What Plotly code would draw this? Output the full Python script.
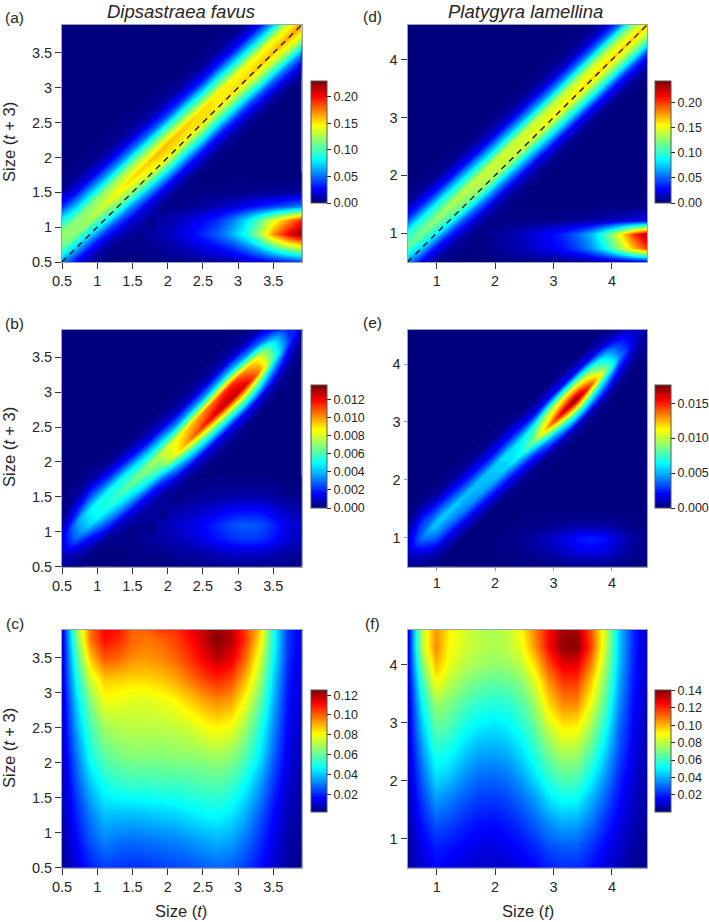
import plotly.graph_objects as go

size_fav = [0.5, 0.7, 0.9, 1.1, 1.3, 1.5, 1.7, 1.9, 2.1, 2.3, 2.5, 2.7, 2.9, 3.1, 3.3, 3.5, 3.7, 3.9]
size_pla = [0.5, 0.741, 0.982, 1.224, 1.465, 1.706, 1.947, 2.188, 2.429, 2.671, 2.912, 3.153, 3.394, 3.635, 3.876, 4.118, 4.359, 4.6]
y_fav_c = [0.5, 0.9, 1.3, 1.7, 2.1, 2.5, 2.9, 3.2, 3.5, 3.75, 3.9]
y_pla_f = [0.5, 0.9, 1.3, 1.7, 2.1, 2.5, 2.9, 3.3, 3.7, 4.0, 4.3, 4.6]

# rows go bottom to top, columns left to right
kernel_a = [
    [.058, .025, .007, .001, 0, 0, 0, .001, .002, .003, .005, .006, .008, .012, .017, .023, .03, .036],
    [.109, .07, .03, .009, .002, .002, .003, .005, .008, .013, .019, .025, .034, .048, .068, .095, .118, .135],
    [.122, .117, .078, .037, .013, .006, .005, .009, .015, .024, .034, .046, .064, .088, .124, .172, .205, .23],
    [.084, .117, .125, .092, .047, .018, .008, .007, .011, .018, .026, .035, .052, .075, .105, .14, .17, .2],
    [.034, .07, .118, .135, .108, .056, .02, .006, .002, .004, .006, .01, .016, .022, .03, .037, .045, .055],
    [.008, .025, .068, .12, .147, .119, .067, .024, .005, .001, .001, .001, .002, .002, .003, .004, .005, .006],
    [.001, .0055, .023, .063, .12, .155, .133, .076, .027, .006, 0, 0, 0, 0, 0, 0, 0, 0],
    [0, .001, .005, .02, .059, .119, .158, .144, .082, .029, .007, 0, 0, 0, 0, 0, 0, 0],
    [0, 0, .001, .004, .018, .056, .114, .162, .149, .085, .032, .007, 0, 0, 0, 0, 0, 0],
    [0, 0, 0, .001, .003, .016, .05, .11, .16, .148, .091, .032, .008, 0, 0, 0, 0, 0],
    [0, 0, 0, 0, .001, .003, .013, .045, .104, .157, .152, .09, .037, .009, 0, 0, 0, 0],
    [0, 0, 0, 0, 0, .001, .002, .011, .04, .099, .152, .15, .096, .039, .011, 0, 0, 0],
    [0, 0, 0, 0, 0, 0, .001, .002, .009, .037, .091, .15, .154, .1, .045, .012, 0, 0],
    [0, 0, 0, 0, 0, 0, 0, .001, .001, .008, .032, .09, .146, .155, .11, .05, .015, 0],
    [0, 0, 0, 0, 0, 0, 0, 0, .001, .001, .007, .032, .083, .145, .16, .113, .055, .017],
    [0, 0, 0, 0, 0, 0, 0, 0, 0, .001, .001, .007, .029, .08, .142, .162, .125, .061],
    [0, 0, 0, 0, 0, 0, 0, 0, 0, 0, .001, .001, .006, .027, .075, .14, .166, .131],
    [0, 0, 0, 0, 0, 0, 0, 0, 0, 0, 0, .001, .001, .005, .024, .07, .135, .17],
]

kernel_b = [
    [.0003, .0001, 0, 0, 0, 0, 0, 0, 0, .0001, .0001, .0001, .0001, .0001, .0001, .0001, .0001, 0],
    [.0008, .0008, .0002, 0, 0, .0001, .0001, .0002, .0003, .0004, .0005, .0007, .0009, .0009, .0009, .0007, .0004, .0002],
    [.001, .0028, .0016, .0004, .0002, .0002, .0003, .0004, .0007, .0009, .0013, .0017, .0021, .0023, .0022, .0017, .001, .0006],
    [.0005, .0034, .0044, .0028, .0008, .0003, .0003, .0005, .0008, .0011, .0015, .002, .0025, .0027, .0026, .002, .0012, .0007],
    [.0001, .0016, .0048, .0052, .0036, .0013, .0004, .0003, .0005, .0007, .0009, .0012, .0015, .0016, .0016, .0012, .0007, .0004],
    [0, .0004, .0026, .0052, .0058, .0042, .0016, .0004, .0002, .0002, .0003, .0004, .0005, .0005, .0005, .0004, .0002, .0001],
    [0, .0001, .0006, .0024, .0052, .0065, .0051, .0022, .0007, .0001, .0001, .0001, .0001, .0001, .0001, .0001, 0, 0],
    [0, 0, .0001, .0004, .002, .0048, .0071, .0062, .0036, .001, .0001, 0, 0, 0, 0, 0, 0, 0],
    [0, 0, 0, 0, .0003, .0016, .0043, .0077, .0084, .0048, .0013, .0002, 0, 0, 0, 0, 0, 0],
    [0, 0, 0, 0, 0, .0002, .0011, .0041, .0084, .0101, .0056, .0014, .0002, 0, 0, 0, 0, 0],
    [0, 0, 0, 0, 0, 0, .0001, .001, .0036, .0093, .0114, .0061, .0015, .0002, 0, 0, 0, 0],
    [0, 0, 0, 0, 0, 0, 0, .0001, .0007, .0038, .0101, .0124, .0064, .0016, .0001, 0, 0, 0],
    [0, 0, 0, 0, 0, 0, 0, 0, .0001, .0007, .0038, .0109, .0129, .0067, .0013, .0001, 0, 0],
    [0, 0, 0, 0, 0, 0, 0, 0, 0, .0001, .0007, .0042, .0114, .0124, .0055, .0008, 0, 0],
    [0, 0, 0, 0, 0, 0, 0, 0, 0, 0, .0001, .0008, .0044, .0101, .0102, .0032, .0003, 0],
    [0, 0, 0, 0, 0, 0, 0, 0, 0, 0, 0, .0001, .0008, .0036, .0083, .006, .0012, .0001],
    [0, 0, 0, 0, 0, 0, 0, 0, 0, 0, 0, 0, .0001, .0006, .0029, .0049, .0026, .0002],
    [0, 0, 0, 0, 0, 0, 0, 0, 0, 0, 0, 0, 0, .0001, .0005, .0017, .0019, .0007],
]

kernel_c = [
    [.005, .012, .019, .023, .022, .021, .022, .023, .024, .025, .027, .028, .027, .023, .017, .011, .006, .003],
    [.006, .016, .026, .032, .03, .029, .03, .031, .032, .034, .036, .038, .036, .03, .022, .014, .007, .004],
    [.007, .02, .032, .04, .04, .04, .041, .042, .043, .045, .047, .048, .045, .038, .028, .017, .009, .005],
    [.008, .025, .04, .049, .053, .054, .054, .055, .055, .056, .057, .058, .055, .047, .036, .022, .011, .006],
    [.009, .03, .049, .059, .063, .065, .065, .065, .066, .066, .067, .069, .066, .058, .045, .028, .014, .007],
    [.01, .036, .056, .068, .071, .072, .072, .072, .073, .075, .079, .082, .079, .068, .052, .033, .016, .008],
    [.011, .042, .065, .08, .079, .077, .077, .079, .082, .087, .092, .096, .093, .08, .062, .038, .018, .009],
    [.012, .048, .075, .088, .087, .086, .086, .088, .092, .098, .104, .108, .104, .09, .07, .042, .02, .01],
    [.012, .055, .088, .102, .1, .095, .094, .096, .1, .106, .113, .119, .115, .1, .078, .047, .022, .011],
    [.012, .062, .098, .111, .107, .1, .098, .1, .104, .11, .118, .125, .12, .106, .085, .05, .023, .012],
    [.012, .066, .098, .112, .11, .1, .1, .105, .107, .112, .118, .123, .12, .105, .088, .05, .023, .012],
]

kernel_d = [
    [.063, .024, .005, .001, 0, 0, 0, .001, .001, .001, .002, .002, .003, .005, .007, .011, .014, .018],
    [.11, .077, .03, .007, .001, .001, .003, .007, .011, .017, .023, .03, .042, .06, .089, .128, .17, .204],
    [.099, .121, .088, .038, .01, .003, .004, .008, .013, .02, .027, .035, .05, .07, .105, .15, .2, .24],
    [.044, .096, .127, .1, .047, .013, .002, .001, .001, .002, .002, .003, .004, .006, .009, .013, .018, .022],
    [.01, .039, .093, .134, .114, .056, .015, .002, 0, 0, 0, 0, 0, 0, .001, .001, .001, .001],
    [.001, .008, .034, .09, .139, .125, .063, .017, .003, 0, 0, 0, 0, 0, 0, 0, 0, 0],
    [0, .001, .006, .03, .085, .14, .134, .067, .019, .003, 0, 0, 0, 0, 0, 0, 0, 0],
    [0, 0, .001, .005, .027, .08, .141, .138, .074, .021, .004, 0, 0, 0, 0, 0, 0, 0],
    [0, 0, 0, .001, .004, .023, .075, .142, .144, .079, .025, .004, 0, 0, 0, 0, 0, 0],
    [0, 0, 0, 0, 0, .003, .02, .073, .14, .149, .087, .027, .004, 0, 0, 0, 0, 0],
    [0, 0, 0, 0, 0, 0, .003, .019, .068, .14, .154, .092, .029, .005, 0, 0, 0, 0],
    [0, 0, 0, 0, 0, 0, 0, .003, .017, .066, .138, .157, .097, .032, .005, 0, 0, 0],
    [0, 0, 0, 0, 0, 0, 0, 0, .002, .016, .062, .137, .161, .102, .034, .006, 0, 0],
    [0, 0, 0, 0, 0, 0, 0, 0, 0, .002, .014, .061, .136, .165, .106, .036, .007, 0],
    [0, 0, 0, 0, 0, 0, 0, 0, 0, 0, .002, .013, .059, .136, .166, .11, .04, .008],
    [0, 0, 0, 0, 0, 0, 0, 0, 0, 0, 0, .002, .012, .057, .133, .167, .116, .043],
    [0, 0, 0, 0, 0, 0, 0, 0, 0, 0, 0, 0, .002, .012, .055, .13, .168, .119],
    [0, 0, 0, 0, 0, 0, 0, 0, 0, 0, 0, 0, 0, .002, .011, .05, .122, .168],
]

kernel_e = [
    [.0002, .0001, 0, 0, 0, 0, 0, 0, 0, 0, 0, 0, 0, 0, 0, 0, 0, 0],
    [.0008, .0015, .0009, 0, 0, 0, 0, .0001, .0002, .0004, .0006, .001, .0014, .0016, .0014, .0008, .0003, .0001],
    [.0009, .0038, .0035, .0012, 0, 0, 0, .0001, .0003, .0006, .001, .0015, .0022, .0025, .0022, .0012, .0005, .0001],
    [.0003, .003, .0056, .0038, .0014, .0001, 0, 0, .0001, .0001, .0002, .0003, .0005, .0005, .0005, .0003, .0001, 0],
    [0, .001, .003, .0056, .0042, .0016, .0001, 0, 0, 0, 0, 0, 0, 0, 0, 0, 0, 0],
    [0, .0001, .0006, .0028, .0054, .0046, .0018, .0001, 0, 0, 0, 0, 0, 0, 0, 0, 0, 0],
    [0, 0, 0, .0005, .0024, .0054, .005, .002, .0002, 0, 0, 0, 0, 0, 0, 0, 0, 0],
    [0, 0, 0, 0, .0005, .0022, .0055, .0055, .0024, .0003, 0, 0, 0, 0, 0, 0, 0, 0],
    [0, 0, 0, 0, 0, .0004, .002, .0058, .0065, .0029, .0004, 0, 0, 0, 0, 0, 0, 0],
    [0, 0, 0, 0, 0, 0, .0004, .0022, .006, .0088, .0046, .0007, 0, 0, 0, 0, 0, 0],
    [0, 0, 0, 0, 0, 0, 0, .0004, .002, .0071, .0128, .0063, .0009, .0001, 0, 0, 0, 0],
    [0, 0, 0, 0, 0, 0, 0, 0, .0001, .0015, .0097, .016, .0077, .0007, 0, 0, 0, 0],
    [0, 0, 0, 0, 0, 0, 0, 0, 0, .0001, .002, .0109, .0174, .0064, .0006, 0, 0, 0],
    [0, 0, 0, 0, 0, 0, 0, 0, 0, 0, .0001, .002, .0106, .0143, .0044, .0002, 0, 0],
    [0, 0, 0, 0, 0, 0, 0, 0, 0, 0, 0, .0002, .0018, .0087, .0094, .002, .0001, 0],
    [0, 0, 0, 0, 0, 0, 0, 0, 0, 0, 0, 0, .0001, .0015, .0057, .0044, .0007, 0],
    [0, 0, 0, 0, 0, 0, 0, 0, 0, 0, 0, 0, 0, .0001, .001, .0027, .0016, .0002],
    [0, 0, 0, 0, 0, 0, 0, 0, 0, 0, 0, 0, 0, 0, .0001, .0005, .001, .0004],
]

kernel_f = [
    [.004, .011, .016, .014, .012, .01, .01, .011, .013, .016, .02, .022, .022, .018, .012, .008, .004, .002],
    [.005, .014, .021, .019, .016, .014, .013, .015, .018, .022, .028, .03, .03, .024, .017, .011, .006, .003],
    [.006, .019, .029, .026, .022, .019, .018, .02, .024, .03, .037, .041, .04, .033, .023, .014, .008, .003],
    [.007, .024, .038, .034, .029, .025, .024, .026, .031, .038, .048, .053, .052, .042, .03, .018, .01, .004],
    [.008, .03, .048, .044, .037, .032, .031, .033, .039, .048, .059, .066, .065, .053, .038, .022, .012, .005],
    [.009, .036, .056, .053, .045, .04, .039, .041, .047, .057, .07, .078, .077, .064, .046, .027, .014, .006],
    [.01, .043, .066, .062, .054, .049, .047, .049, .055, .066, .082, .092, .091, .076, .055, .031, .016, .006],
    [.01, .05, .075, .07, .063, .058, .056, .057, .063, .075, .095, .106, .106, .088, .064, .036, .018, .007],
    [.011, .06, .09, .08, .073, .068, .066, .067, .072, .085, .105, .118, .118, .098, .072, .04, .02, .008],
    [.012, .07, .1, .087, .08, .076, .074, .075, .08, .095, .115, .128, .128, .108, .078, .043, .021, .008],
    [.012, .08, .107, .09, .084, .08, .078, .08, .087, .105, .125, .139, .14, .118, .083, .045, .022, .008],
    [.012, .08, .105, .092, .085, .08, .078, .08, .09, .108, .125, .137, .137, .115, .085, .045, .022, .008],
]

# colour bar ticks
ticks_a = [0, 0.05, 0.10, 0.15, 0.20]
ticks_b = [0, 0.002, 0.004, 0.006, 0.008, 0.010, 0.012]
ticks_c = [0.02, 0.04, 0.06, 0.08, 0.10, 0.12]
ticks_d = [0, 0.05, 0.10, 0.15, 0.20]
ticks_e = [0, 0.005, 0.010, 0.015]
ticks_f = [0.02, 0.04, 0.06, 0.08, 0.10, 0.12, 0.14]

# matlab.like ramp
ramp = [[0, "#00007F"], [0.11, "#0000FF"], [0.36, "#00FFFF"], [0.5, "#7FFF7F"],
        [0.64, "#FFFF00"], [0.89, "#FF0000"], [1, "#7F0000"]]

W = 709
H = 922
TXT = "#262626"
FONT = "Liberation Sans"

fig = go.Figure()


def add_panel(n, x, y, z, zrange, bar_ticks, fmt, box, bar, x_range, y_range, x_ticks, y_ticks, tick_style, sheared):
    L, R, T, B = box
    suffix = "" if n == 1 else str(n)
    cbar = dict(
        x=bar[0] / W, xanchor="left", y=1 - bar[2] / H, yanchor="bottom",
        len=bar[2] - bar[1], lenmode="pixels", thickness=bar[3], thicknessmode="pixels",
        xpad=0, ypad=0, outlinewidth=1, outlinecolor="#555555",
        tickvals=bar_ticks, ticktext=[fmt % v for v in bar_ticks],
        ticks="outside", ticklen=4, tickwidth=1, tickcolor=TXT,
        tickfont=dict(family=FONT, size=12.5, color=TXT),
    )
    if sheared:
        # same grid values, but cells run along the diagonal so the ridge stays smooth
        k = len(x)
        steps = list(range(-(k - 1), k))
        off = [s * (x[-1] - x[0]) / (k - 1) for s in steps]
        sheared_x = [list(x) for _ in steps]
        sheared_y = [[v + o for v in x] for o in off]
        sheared_z = []
        for s in steps:
            row = []
            for i in range(k):
                i2 = min(max(i, max(0, -s)), min(k - 1, k - 1 - s))
                row.append(z[i2 + s][i2] if s >= -3 else 0)
            sheared_z.append(row)
        cid = "c" + str(n)
        fig.add_trace(go.Carpet(
            carpet=cid, a=list(x), b=off, x=sheared_x, y=sheared_y,
            xaxis="x" + suffix, yaxis="y" + suffix,
            aaxis=dict(showgrid=False, showticklabels="none", showline=False, startline=False, endline=False,
                       minorgridcount=0),
            baxis=dict(showgrid=False, showticklabels="none", showline=False, startline=False, endline=False,
                       minorgridcount=0),
        ))
        fig.add_trace(go.Contourcarpet(
            carpet=cid, a=list(x), b=off, z=sheared_z, xaxis="x" + suffix, yaxis="y" + suffix,
            colorscale=ramp, zauto=False, zmin=zrange[0], zmax=zrange[1], autocontour=False,
            contours=dict(coloring="fill", start=zrange[0] + (zrange[1] - zrange[0]) / 200,
                          end=zrange[1], size=(zrange[1] - zrange[0]) / 60, showlines=False),
            line=dict(width=0, smoothing=1), colorbar=cbar,
        ))
        # the horizontal lower patch sits on normal axes on top, the rest left empty
        over = str(n + 6)
        patch = [[z[r][c] if r - c <= -4 and r <= 6 else None for c in range(k)] for r in range(k)]
        fig.add_trace(go.Heatmap(
            x=x, y=y, z=patch, zmin=zrange[0], zmax=zrange[1], zsmooth="best", colorscale=ramp,
            showscale=False, xaxis="x" + over, yaxis="y" + over,
        ))
        fig.update_layout({
            "xaxis" + over: dict(overlaying="x" + suffix, anchor="y" + over, range=x_range, visible=False),
            "yaxis" + over: dict(overlaying="y" + suffix, anchor="x" + over, range=y_range, visible=False),
        })
    else:
        fig.add_trace(go.Heatmap(
            x=x, y=y, z=z, zmin=zrange[0], zmax=zrange[1], zsmooth="best",
            colorscale=ramp, xaxis="x" + suffix, yaxis="y" + suffix, colorbar=cbar,
        ))
    common = dict(showgrid=False, zeroline=False, showline=True, mirror=True, linecolor="#9aa3ad",
                  linewidth=1, ticks="outside", tickfont=dict(family=FONT, size=14.5, color=TXT),
                  **tick_style)
    fig.update_layout({
        "xaxis" + suffix: dict(domain=[L / W, R / W], range=x_range, anchor="y" + suffix,
                               tickvals=x_ticks, ticktext=[str(v) for v in x_ticks], **common),
        "yaxis" + suffix: dict(domain=[1 - B / H, 1 - T / H], range=y_range, anchor="x" + suffix,
                               tickvals=y_ticks, ticktext=[str(v) for v in y_ticks], **common),
    })


ticks_fav = [0.5, 1, 1.5, 2, 2.5, 3, 3.5]
ticks_pla = [1, 2, 3, 4]
normal = dict(ticklen=6, tickwidth=1, tickcolor="#333333")
faint = dict(ticklen=3, tickwidth=1, tickcolor="#999999")
range_fav = [0.5, 3.9]
range_pla = [0.5, 4.6]

add_panel(1, size_fav, size_fav, kernel_a, [0, 0.23], ticks_a, "%.2f", (62, 301.5, 25, 262),
          (310.5, 81, 203, 15.5), range_fav, range_fav, ticks_fav, ticks_fav, normal, True)
add_panel(2, size_fav, size_fav, kernel_b, [0, 0.0136], ticks_b, "%.3f", (62, 301.5, 329.5, 566.5),
          (310.5, 385.5, 508, 15.5), range_fav, range_fav, ticks_fav, ticks_fav, normal, True)
add_panel(3, size_fav, y_fav_c, kernel_c, [0.0025, 0.1257], ticks_c, "%.2f", (62, 301.5, 630, 867.5),
          (310.5, 689.5, 811.5, 15.5), range_fav, range_fav, ticks_fav, ticks_fav, normal, False)
add_panel(4, size_pla, size_pla, kernel_d, [0, 0.243], ticks_d, "%.2f", (407.5, 647, 25, 262),
          (654.5, 81, 203, 15.5), range_pla, range_pla, ticks_pla, ticks_pla, normal, True)
add_panel(5, size_pla, size_pla, kernel_e, [0, 0.0176], ticks_e, "%.3f", (407.5, 647, 329.5, 566.5),
          (654.5, 385.5, 508, 15.5), range_pla, range_pla, ticks_pla, ticks_pla, faint, True)
add_panel(6, size_pla, y_pla_f, kernel_f, [0.001, 0.141], ticks_f, "%.2f", (407.5, 647, 630, 867.5),
          (654.5, 689.5, 811.5, 15.5), range_pla, range_pla, ticks_pla, ticks_pla, normal, False)

# 1:1 lines on the top panels
fig.add_trace(go.Scatter(x=[0.5, 3.9], y=[0.5, 3.9], mode="lines", xaxis="x", yaxis="y", showlegend=False,
                         line=dict(color="#111111", width=1.3, dash="6px,5px")))
fig.add_trace(go.Scatter(x=[0.5, 4.6], y=[0.5, 4.6], mode="lines", xaxis="x4", yaxis="y4", showlegend=False,
                         line=dict(color="#111111", width=1.3, dash="6px,5px")))


def label(px, py, text, size, angle=0):
    return dict(x=px / W, y=1 - py / H, xref="paper", yref="paper", text=text, showarrow=False,
                textangle=angle, xanchor="center", yanchor="middle",
                font=dict(family=FONT, size=size, color=TXT))


fig.update_layout(
    width=W, height=H, autosize=False, showlegend=False,
    margin=dict(l=0, r=0, t=0, b=0, autoexpand=False), paper_bgcolor="white", plot_bgcolor="#00007F",
    annotations=[
        label(181, 11, "<i>Dipsastraea favus</i>", 18.5),
        label(525, 11, "<i>Platygyra lamellina</i>", 18.5),
        label(15, 18, "(a)", 15.5), label(15, 323, "(b)", 15.5), label(15, 623, "(c)", 15.5),
        label(373, 16, "(d)", 15.5), label(373, 322, "(e)", 15.5), label(373, 623, "(f)", 15.5),
        label(9, 142, "Size (<i>t</i> + 3)", 16.5, -90),
        label(9, 447, "Size (<i>t</i> + 3)", 16.5, -90),
        label(9, 748, "Size (<i>t</i> + 3)", 16.5, -90),
        label(181, 911, "Size (<i>t</i>)", 16.5),
        label(528, 911, "Size (<i>t</i>)", 16.5),
    ],
)

fig.write_html("out.html", config=dict(displayModeBar=False), post_script="document.body.style.margin='0';")
